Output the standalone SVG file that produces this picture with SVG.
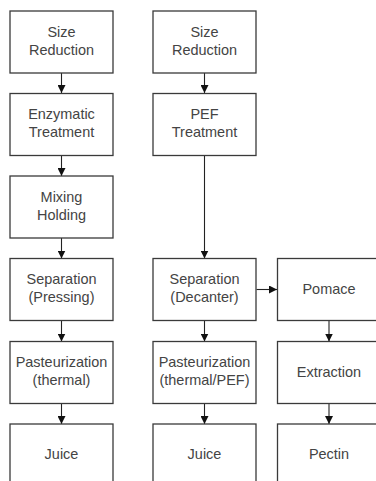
<svg xmlns="http://www.w3.org/2000/svg" width="376" height="481" viewBox="0 0 376 481">
<style>
.box{fill:#fff;stroke:#3a3a3a;stroke-width:1.3}
.t{font-family:"Liberation Sans",Arial,sans-serif;font-size:13.8px;fill:#444;text-anchor:middle}
.c{stroke:#222;stroke-width:1.1;fill:none}
</style>
<defs>
<marker id="ah" viewBox="0 0 10 10" refX="10" refY="5" markerWidth="8" markerHeight="8" markerUnits="userSpaceOnUse" orient="auto">
<path d="M0,0 L10,5 L0,10 Z" fill="#111"/>
</marker>
</defs>
<rect width="376" height="481" fill="#fff"/>
<g id="connectors">
<line class="c" x1="61.5" y1="73" x2="61.5" y2="93" marker-end="url(#ah)"/>
<line class="c" x1="61.5" y1="155.5" x2="61.5" y2="176" marker-end="url(#ah)"/>
<line class="c" x1="61.5" y1="238" x2="61.5" y2="258.5" marker-end="url(#ah)"/>
<line class="c" x1="61.5" y1="320.5" x2="61.5" y2="341.5" marker-end="url(#ah)"/>
<line class="c" x1="61.5" y1="403.5" x2="61.5" y2="424" marker-end="url(#ah)"/>
<line class="c" x1="204.5" y1="73" x2="204.5" y2="93" marker-end="url(#ah)"/>
<line class="c" x1="204.5" y1="155.5" x2="204.5" y2="258.5" marker-end="url(#ah)"/>
<line class="c" x1="204.5" y1="320.5" x2="204.5" y2="341.5" marker-end="url(#ah)"/>
<line class="c" x1="204.5" y1="403.5" x2="204.5" y2="424" marker-end="url(#ah)"/>
<line class="c" x1="256.5" y1="289.5" x2="277" y2="289.5" marker-end="url(#ah)"/>
<line class="c" x1="329" y1="320.5" x2="329" y2="341.5" marker-end="url(#ah)"/>
<line class="c" x1="329" y1="403.5" x2="329" y2="424" marker-end="url(#ah)"/>
</g>
<g id="l1"><rect class="box" x="10" y="11" width="103" height="62"/><text class="t" transform="matrix(1.05 0 0 1 61.5 0)" y="36.7">Size</text><text class="t" transform="matrix(1.05 0 0 1 61.5 0)" y="54.7">Reduction</text></g>
<g id="l2"><rect class="box" x="10" y="93.5" width="103" height="62"/><text class="t" transform="matrix(1.05 0 0 1 61.5 0)" y="119.2">Enzymatic</text><text class="t" transform="matrix(1.05 0 0 1 61.5 0)" y="137.2">Treatment</text></g>
<g id="l3"><rect class="box" x="10" y="176" width="103" height="62"/><text class="t" transform="matrix(1.05 0 0 1 61.5 0)" y="201.7">Mixing</text><text class="t" transform="matrix(1.05 0 0 1 61.5 0)" y="219.7">Holding</text></g>
<g id="l4"><rect class="box" x="10" y="258.5" width="103" height="62"/><text class="t" transform="matrix(1.05 0 0 1 61.5 0)" y="284.2">Separation</text><text class="t" transform="matrix(1.05 0 0 1 61.5 0)" y="302.2">(Pressing)</text></g>
<g id="l5"><rect class="box" x="10" y="341.5" width="103" height="62"/><text class="t" transform="matrix(1.05 0 0 1 61.5 0)" y="367.2">Pasteurization</text><text class="t" transform="matrix(1.05 0 0 1 61.5 0)" y="385.2">(thermal)</text></g>
<g id="l6"><rect class="box" x="10" y="424" width="103" height="62"/><text class="t" transform="matrix(1.05 0 0 1 61.5 0)" y="459.5">Juice</text></g>
<g id="m1"><rect class="box" x="153" y="11" width="103" height="62"/><text class="t" transform="matrix(1.05 0 0 1 204.5 0)" y="36.7">Size</text><text class="t" transform="matrix(1.05 0 0 1 204.5 0)" y="54.7">Reduction</text></g>
<g id="m2"><rect class="box" x="153" y="93.5" width="103" height="62"/><text class="t" transform="matrix(1.05 0 0 1 204.5 0)" y="119.2">PEF</text><text class="t" transform="matrix(1.05 0 0 1 204.5 0)" y="137.2">Treatment</text></g>
<g id="m4"><rect class="box" x="153" y="258.5" width="103" height="62"/><text class="t" transform="matrix(1.05 0 0 1 204.5 0)" y="284.2">Separation</text><text class="t" transform="matrix(1.05 0 0 1 204.5 0)" y="302.2">(Decanter)</text></g>
<g id="m5"><rect class="box" x="153" y="341.5" width="103" height="62"/><text class="t" transform="matrix(1.05 0 0 1 204.5 0)" y="367.2">Pasteurization</text><text class="t" transform="matrix(1.05 0 0 1 204.5 0)" y="385.2">(thermal/PEF)</text></g>
<g id="m6"><rect class="box" x="153" y="424" width="103" height="62"/><text class="t" transform="matrix(1.05 0 0 1 204.5 0)" y="459.5">Juice</text></g>
<g id="r4"><rect class="box" x="277.5" y="258.5" width="103" height="62"/><text class="t" transform="matrix(1.05 0 0 1 329 0)" y="293.8">Pomace</text></g>
<g id="r5"><rect class="box" x="277.5" y="341.5" width="103" height="62"/><text class="t" transform="matrix(1.05 0 0 1 329 0)" y="376.8">Extraction</text></g>
<g id="r6"><rect class="box" x="277.5" y="424" width="103" height="62"/><text class="t" transform="matrix(1.05 0 0 1 329 0)" y="459.5">Pectin</text></g>
</svg>
